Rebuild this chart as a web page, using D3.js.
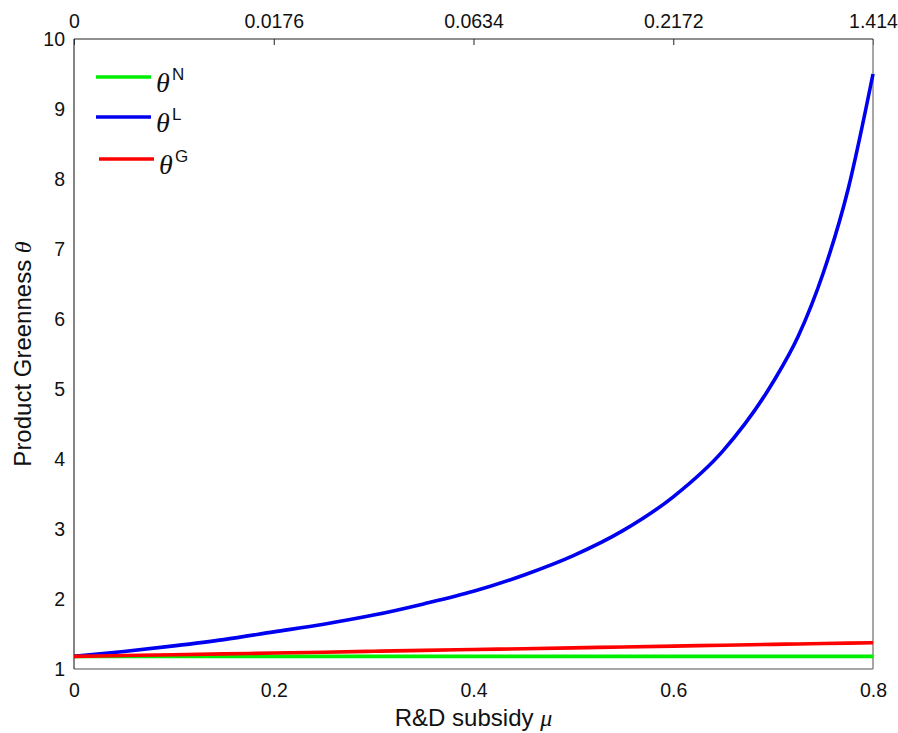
<!DOCTYPE html>
<html>
<head>
<meta charset="utf-8">
<script src="https://cdn.jsdelivr.net/npm/d3@7"></script>
<style>
  body { margin: 0; background: #fff; }
  text { font-family: "Liberation Sans", Arial, Helvetica, sans-serif; fill: #111; }
  .sym { font-family: "Liberation Serif", "Times New Roman", serif; font-style: italic; }
</style>
</head>
<body>
<div id="chart"></div>
<script>
const width = 898, height = 733;
const margin = {left: 74, right: 25, top: 39, bottom: 64};

// R&D subsidy mu
const mu = [0, 0.05, 0.1, 0.15, 0.2, 0.25, 0.3, 0.35, 0.4, 0.45, 0.5, 0.55, 0.6, 0.65, 0.7, 0.725, 0.75, 0.775, 0.8];
// product greenness for each regime
const thetaN = [1.18, 1.18, 1.18, 1.18, 1.18, 1.18, 1.18, 1.18, 1.18, 1.18, 1.18, 1.18, 1.18, 1.18, 1.18, 1.18, 1.18, 1.18, 1.18];
const thetaL = [1.18, 1.25, 1.33, 1.42, 1.53, 1.64, 1.77, 1.93, 2.11, 2.34, 2.62, 2.98, 3.46, 4.12, 5.1, 5.75, 6.65, 7.85, 9.5];
const thetaG = [1.18, 1.192, 1.204, 1.216, 1.228, 1.24, 1.253, 1.266, 1.278, 1.29, 1.302, 1.315, 1.327, 1.34, 1.352, 1.358, 1.364, 1.37, 1.376];

const xTicks = [0, 0.2, 0.4, 0.6, 0.8];
const topLabels = ["0", "0.0176", "0.0634", "0.2172", "1.414"];
const yTicks = [1, 2, 3, 4, 5, 6, 7, 8, 9, 10];

const series = [
    {name: "N", values: thetaN, color: "#00ee00"},
    {name: "L", values: thetaL, color: "#0000f0"},
    {name: "G", values: thetaG, color: "#ff0000"}
];

const innerWidth = width - margin.left - margin.right;
const innerHeight = height - margin.top - margin.bottom;

const svg = d3.select("#chart")
    .append("svg")
    .attr("width", width)
    .attr("height", height);

const g = svg.append("g")
    .attr("transform", `translate(${margin.left},${margin.top})`);

const xScale = d3.scaleLinear().domain([0, 0.8]).range([0, innerWidth]);
const yScale = d3.scaleLinear().domain([1, 10]).range([innerHeight, 0]);

// axes
const xAxis = d3.axisBottom(xScale).tickValues(xTicks).tickFormat(d3.format("")).tickSize(0).tickPadding(14);
const topAxis = d3.axisTop(xScale).tickValues(xTicks)
    .tickFormat((d, i) => topLabels[i]).tickSizeInner(-6).tickSizeOuter(0).tickPadding(11);
const yAxis = d3.axisLeft(yScale).tickValues(yTicks).tickSize(0).tickPadding(9);

g.append("g").attr("transform", `translate(0,${innerHeight})`).call(xAxis);
g.append("g").call(topAxis);
g.append("g").call(yAxis);

g.selectAll(".domain").remove();
g.selectAll(".tick text").style("font-size", "19.5px").attr("fill", "#111");
g.selectAll(".tick line").attr("stroke", "#222");

// frame
g.append("line").attr("x1", 0).attr("x2", innerWidth).attr("y1", innerHeight).attr("y2", innerHeight)
    .attr("stroke", "#888").attr("stroke-width", 1.5);
g.append("line").attr("x1", innerWidth).attr("x2", innerWidth).attr("y1", 0).attr("y2", innerHeight)
    .attr("stroke", "#888").attr("stroke-width", 1.5);
g.append("line").attr("x1", 0).attr("x2", innerWidth).attr("y1", 0).attr("y2", 0)
    .attr("stroke", "#222").attr("stroke-width", 1.2);
g.append("line").attr("x1", 0).attr("x2", 0).attr("y1", 0).attr("y2", innerHeight)
    .attr("stroke", "#333").attr("stroke-width", 1.2);

// curves
const line = d3.line()
    .x((d, i) => xScale(mu[i]))
    .y(d => yScale(d))
    .curve(d3.curveMonotoneX);

g.selectAll(".curve")
    .data(series)
    .enter()
    .append("path")
    .attr("class", "curve")
    .attr("d", d => line(d.values))
    .attr("fill", "none")
    .attr("stroke", d => d.color)
    .attr("stroke-width", 3.6)
    .attr("stroke-linejoin", "round");

// legend
const legend = svg.append("g");
const legY = [77, 117, 159];
const legX = [96, 96, 99];
series.forEach((s, i) => {
    legend.append("line")
        .attr("x1", legX[i]).attr("x2", legX[i] + 55)
        .attr("y1", legY[i]).attr("y2", legY[i])
        .attr("stroke", s.color).attr("stroke-width", 3.6);
    legend.append("text")
        .attr("class", "sym")
        .attr("x", legX[i] + 60).attr("y", legY[i] + 14.5)
        .style("font-size", "28px")
        .text("θ");
    legend.append("text")
        .attr("x", legX[i] + 76).attr("y", legY[i] + 3)
        .style("font-size", "17px")
        .text(s.name);
});

// axis titles
const xt = svg.append("text")
    .attr("x", margin.left + innerWidth / 2)
    .attr("y", 726)
    .attr("text-anchor", "middle")
    .style("font-size", "24px");
xt.append("tspan").text("R&D subsidy ");
xt.append("tspan").attr("class", "sym").text("μ");

const yt = svg.append("text")
    .attr("transform", `translate(31,${margin.top + innerHeight / 2}) rotate(-90)`)
    .attr("text-anchor", "middle")
    .style("font-size", "24px");
yt.append("tspan").text("Product Greenness ");
yt.append("tspan").attr("class", "sym").text("θ");
</script>
</body>
</html>
